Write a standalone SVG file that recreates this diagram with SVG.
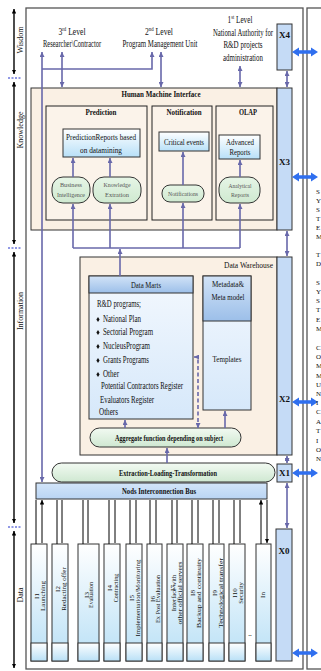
<svg xmlns="http://www.w3.org/2000/svg" width="321" height="671" viewBox="0 0 321 671">
<defs>
<style>
text{font-family:"Liberation Serif","Times New Roman",serif;fill:#111;}
.b{font-weight:bold}
.f10{font-size:10px}
.f95{font-size:9.5px}
.f9{font-size:9px}
.f8{font-size:8px}
.f7{font-size:7px}
.g{fill:#555}
.mid{text-anchor:middle}
.box{stroke:#333;stroke-width:1}
.frame{fill:none;stroke:#555;stroke-width:1.3}
.panel{fill:#faf0e4;stroke:#333;stroke-width:1}
.sub{fill:#fbf3ea;stroke:#222;stroke-width:1}
.xb{fill:#c5dbf6;stroke:#333;stroke-width:1}
.ln{stroke:#6868aa;stroke-width:1.6;fill:none}
.dash{stroke:#6868aa;stroke-width:1.6;fill:none;stroke-dasharray:4 2.5}
.bk{stroke:#000;stroke-width:1;fill:none}
.ax{stroke:#000;stroke-width:1.4;fill:none}
.tick{stroke:#2233cc;stroke-width:1;stroke-dasharray:2 1.5}
.dbl{fill:#2f6fef}
.frag{font-family:"Liberation Sans",Arial,sans-serif;font-size:7px;fill:#333}
</style>
<linearGradient id="gRep" x1="0" y1="0" x2="0" y2="1"><stop offset="0" stop-color="#ffffff"/><stop offset="1" stop-color="#b8e0f8"/></linearGradient>
<linearGradient id="gOval" x1="0" y1="0" x2="0" y2="1"><stop offset="0" stop-color="#e6f5e6"/><stop offset="1" stop-color="#cfe9d0"/></linearGradient>
<linearGradient id="gPill" x1="0" y1="0" x2="0" y2="1"><stop offset="0" stop-color="#f2faf2"/><stop offset="1" stop-color="#cfe8d1"/></linearGradient>
<linearGradient id="gHdr" x1="0" y1="0" x2="0" y2="1"><stop offset="0" stop-color="#d2e3f7"/><stop offset="1" stop-color="#9cbfe9"/></linearGradient>
<linearGradient id="gBody" x1="0" y1="0" x2="0" y2="1"><stop offset="0" stop-color="#f3f8fe"/><stop offset="1" stop-color="#d6e8fa"/></linearGradient>
<linearGradient id="gI" x1="0" y1="0" x2="0" y2="1"><stop offset="0" stop-color="#ffffff"/><stop offset="1" stop-color="#b9e0f6"/></linearGradient>
<linearGradient id="gBus" x1="0" y1="0" x2="0" y2="1"><stop offset="0" stop-color="#d3e5f9"/><stop offset="1" stop-color="#b9d4f3"/></linearGradient>
<marker id="ap" viewBox="0 0 10 10" refX="10" refY="5" markerWidth="5" markerHeight="5" markerUnits="userSpaceOnUse" orient="auto-start-reverse"><path d="M0,0 L10,5 L0,10 z" fill="#6868aa"/></marker>
<marker id="ak" viewBox="0 0 10 10" refX="10" refY="5" markerWidth="4.5" markerHeight="4.5" markerUnits="userSpaceOnUse" orient="auto-start-reverse"><path d="M0,0 L10,5 L0,10 z" fill="#000"/></marker>
</defs>

<rect width="321" height="671" fill="#ffffff"/>

<g id="frames">
<rect x="26" y="8" width="277" height="661" class="frame" fill="#fff"/>
<rect x="307" y="8" width="40" height="661" class="frame"/>
</g>

<g id="axis">
<path d="M14,9 V74" class="ax" marker-start="url(#ak)" marker-end="url(#ak)"/>
<path d="M14,82 V244" class="ax" marker-start="url(#ak)" marker-end="url(#ak)"/>
<path d="M14,252 V523" class="ax" marker-start="url(#ak)" marker-end="url(#ak)"/>
<path d="M14,531 V668" class="ax" marker-start="url(#ak)" marker-end="url(#ak)"/>
<path d="M8,78 H21 M8,248 H21 M8,527 H21" class="tick"/>
<text transform="translate(23,40) rotate(-90)" class="f8 mid">Wisdom</text>
<text transform="translate(23,130) rotate(-90)" class="f8 mid">Knowledge</text>
<text transform="translate(23,311) rotate(-90)" class="f8 mid">Information</text>
<text transform="translate(23,595) rotate(-90)" class="f8 mid">Data</text>
</g>

<g id="level3">
<text transform="translate(72,35) scale(0.8,1)" class="f95 mid" textLength="34" lengthAdjust="spacingAndGlyphs">3<tspan font-size="6" dy="-4">rd</tspan><tspan dy="4"> Level</tspan></text>
<text transform="translate(72,47) scale(0.7,1)" class="f95 mid" textLength="83" lengthAdjust="spacingAndGlyphs">Researcher\Contractor</text>
</g>
<g id="level2">
<text transform="translate(159,35) scale(0.8,1)" class="f95 mid" textLength="35" lengthAdjust="spacingAndGlyphs">2<tspan font-size="6" dy="-4">nd</tspan><tspan dy="4"> Level</tspan></text>
<text transform="translate(160,47) scale(0.7,1)" class="f95 mid" textLength="107" lengthAdjust="spacingAndGlyphs">Program Management Unit</text>
</g>
<g id="level1">
<text transform="translate(240,23) scale(0.8,1)" class="f95 mid" textLength="31" lengthAdjust="spacingAndGlyphs">1<tspan font-size="6" dy="-4">st</tspan><tspan dy="4"> Level</tspan></text>
<text transform="translate(243,36) scale(0.7,1)" class="f95 mid" textLength="86" lengthAdjust="spacingAndGlyphs">National Authority for</text>
<text transform="translate(243,48) scale(0.7,1)" class="f95 mid" textLength="56" lengthAdjust="spacingAndGlyphs">R&amp;D projects</text>
<text transform="translate(243,61) scale(0.7,1)" class="f95 mid" textLength="57" lengthAdjust="spacingAndGlyphs">administration</text>
</g>

<g id="hmi">
<rect x="31" y="88" width="246" height="142" class="panel"/>
<text x="161" y="97" class="f9 mid b" textLength="79" lengthAdjust="spacingAndGlyphs">Human Machine Interface</text>
</g>
<g id="prediction">
<rect x="46" y="106" width="101" height="114" class="sub"/>
<text x="101" y="115" class="f9 mid b" textLength="31" lengthAdjust="spacingAndGlyphs">Prediction</text>
</g>
<g id="notification">
<rect x="152" y="106" width="60" height="114" class="sub"/>
<text x="184" y="115" class="f9 mid b" textLength="35" lengthAdjust="spacingAndGlyphs">Notification</text>
</g>
<g id="olap">
<rect x="216" y="106" width="57" height="114" class="sub"/>
<text x="248" y="115" class="f9 mid b" textLength="18" lengthAdjust="spacingAndGlyphs">OLAP</text>
</g>
<g id="predReports">
<rect x="63" y="129" width="77" height="28" fill="url(#gRep)" class="box"/>
<text x="101" y="140" class="f9 mid" textLength="70" lengthAdjust="spacingAndGlyphs">PredictionReports based</text>
<text x="101" y="153" class="f9 mid" textLength="42" lengthAdjust="spacingAndGlyphs">on datamining</text>
</g>
<g id="businessIntel">
<rect x="52" y="177" width="38" height="26" rx="11" fill="url(#gOval)" class="box"/>
<text x="71" y="187" class="f7 mid g" textLength="22" lengthAdjust="spacingAndGlyphs">Business</text>
<text x="71" y="197" class="f7 mid g" textLength="28" lengthAdjust="spacingAndGlyphs">Intelligence</text>
</g>
<g id="knowledgeExt">
<rect x="93" y="177" width="48" height="26" rx="11" fill="url(#gOval)" class="box"/>
<text x="117" y="187" class="f7 mid g" textLength="27" lengthAdjust="spacingAndGlyphs">Knowledge</text>
<text x="117" y="197" class="f7 mid g" textLength="24" lengthAdjust="spacingAndGlyphs">Extration</text>
</g>
<g id="criticalEvents">
<rect x="159" y="132" width="50" height="19" fill="url(#gRep)" class="box"/>
<text x="184" y="145" class="f9 mid" textLength="40" lengthAdjust="spacingAndGlyphs">Critical events</text>
</g>
<g id="notifications">
<rect x="162" y="185" width="42" height="17" rx="8" fill="url(#gOval)" class="box"/>
<text x="183" y="196" class="f7 mid g" textLength="30" lengthAdjust="spacingAndGlyphs">Notifications</text>
</g>
<g id="advReports">
<rect x="219" y="135" width="41" height="24" fill="url(#gRep)" class="box"/>
<text x="240" y="145" class="f8 mid" textLength="28" lengthAdjust="spacingAndGlyphs">Advanced</text>
<text x="240" y="155" class="f8 mid" textLength="21" lengthAdjust="spacingAndGlyphs">Reports</text>
</g>
<g id="analytical">
<rect x="219" y="177" width="41" height="26" rx="11" fill="url(#gOval)" class="box"/>
<text x="240" y="188" class="f7 mid g" textLength="23" lengthAdjust="spacingAndGlyphs">Analytical</text>
<text x="240" y="197" class="f7 mid g" textLength="18" lengthAdjust="spacingAndGlyphs">Reports</text>
</g>

<g id="dataWarehouse">
<rect x="80" y="257" width="197" height="198" class="panel"/>
<text x="273" y="268" class="f9" text-anchor="end" textLength="49" lengthAdjust="spacingAndGlyphs">Data Warehouse</text>
</g>
<g id="dataMarts">
<rect x="89" y="276" width="104" height="143" fill="url(#gBody)" class="box"/>
<rect x="89" y="276" width="104" height="17" fill="url(#gHdr)" class="box"/>
<text x="146" y="288" class="f9 mid" textLength="30" lengthAdjust="spacingAndGlyphs">Data Marts</text>
<text x="97" y="307" class="f10" textLength="44" lengthAdjust="spacingAndGlyphs">R&amp;D programs;</text>
<g fill="#111">
<polygon points="98,317 99.6,319.5 98,322 96.4,319.5"/>
<polygon points="98,330 99.6,332.5 98,335 96.4,332.5"/>
<polygon points="98,344 99.6,346.5 98,349 96.4,346.5"/>
<polygon points="98,358 99.6,360.5 98,363 96.4,360.5"/>
<polygon points="98,372 99.6,374.5 98,377 96.4,374.5"/>
</g>
<text x="103" y="322" class="f10" textLength="38" lengthAdjust="spacingAndGlyphs">National Plan</text>
<text x="103" y="335" class="f10" textLength="50" lengthAdjust="spacingAndGlyphs">Sectorial Program</text>
<text x="103" y="349" class="f10" textLength="47" lengthAdjust="spacingAndGlyphs">NucleusProgram</text>
<text x="103" y="363" class="f10" textLength="46" lengthAdjust="spacingAndGlyphs">Grants Programs</text>
<text x="103" y="377" class="f10" textLength="16" lengthAdjust="spacingAndGlyphs">Other</text>
<text x="101" y="389" class="f10" textLength="82" lengthAdjust="spacingAndGlyphs">Potential Contractors Register</text>
<text x="100" y="403" class="f10" textLength="54" lengthAdjust="spacingAndGlyphs">Evaluators Register</text>
<text x="99" y="415" class="f10" textLength="19" lengthAdjust="spacingAndGlyphs">Others</text>
</g>
<g id="metadata">
<rect x="203" y="276" width="48" height="134" fill="url(#gBody)" class="box"/>
<rect x="203" y="276" width="48" height="45" fill="url(#gHdr)" class="box"/>
<text x="228" y="287" class="f9 mid" textLength="32" lengthAdjust="spacingAndGlyphs">Metadata&amp;</text>
<text x="228" y="300" class="f9 mid" textLength="33" lengthAdjust="spacingAndGlyphs">Meta model</text>
<text x="227" y="362" class="f9 mid" textLength="29" lengthAdjust="spacingAndGlyphs">Templates</text>
</g>
<g id="aggregate">
<rect x="90" y="428" width="151" height="19" rx="9.5" fill="url(#gPill)" class="box"/>
<text x="169" y="441" class="f8 mid b" textLength="108" lengthAdjust="spacingAndGlyphs">Aggregate function depending on subject</text>
</g>
<g id="etl">
<rect x="52" y="463" width="223" height="19" rx="9.5" fill="url(#gPill)" class="box"/>
<text x="168" y="476" class="f9 mid b" textLength="98" lengthAdjust="spacingAndGlyphs">Extraction-Loading-Transformation</text>
</g>
<g id="bus">
<rect x="36" y="483" width="231" height="16" fill="url(#gBus)" class="box"/>
<text x="159" y="494" class="f9 mid b" textLength="74" lengthAdjust="spacingAndGlyphs">Nods Interconnection Bus</text>
</g>

<g id="x4"><rect x="277" y="24" width="15" height="46" class="xb"/><text x="284.5" y="38" class="f9 mid b">X4</text></g>
<g id="x3"><rect x="277" y="88" width="15" height="142" class="xb"/><text x="284.5" y="165" class="f9 mid b">X3</text></g>
<g id="x2"><rect x="277" y="257" width="15" height="198" class="xb"/><text x="284.5" y="402" class="f9 mid b">X2</text></g>
<g id="x1"><rect x="277" y="464" width="15" height="18" class="xb"/><text x="284.5" y="476" class="f9 mid b">X1</text></g>
<g id="x0"><rect x="276" y="529" width="16" height="132" class="xb"/><text x="284" y="554" class="f9 mid b">X0</text></g>

<g id="i1"><rect x="31" y="544" width="16" height="117" fill="url(#gI)" class="box"/><rect x="31" y="643" width="16" height="18" fill="url(#gI)" class="box"/>
<g transform="translate(39,596) rotate(-90)"><text y="0" class="f7 mid">I1</text><text y="6" class="f7 mid">Launching</text></g></g>
<g id="i2"><rect x="52" y="544" width="16" height="117" fill="url(#gI)" class="box"/><rect x="52" y="643" width="16" height="18" fill="url(#gI)" class="box"/>
<g transform="translate(60,589) rotate(-90)"><text y="0" class="f7 mid">I2</text><text y="6" class="f7 mid">Redacting offer</text></g></g>
<g id="i3"><rect x="78" y="544" width="21" height="117" fill="url(#gI)" class="box"/><rect x="78" y="643" width="21" height="18" fill="url(#gI)" class="box"/>
<g transform="translate(88.5,595) rotate(-90)"><text y="0" class="f7 mid">I3</text><text y="4.5" font-size="6" class="mid">Evaluation</text></g></g>
<g id="i4"><rect x="104" y="544" width="16" height="117" fill="url(#gI)" class="box"/><rect x="104" y="643" width="16" height="18" fill="url(#gI)" class="box"/>
<g transform="translate(112,588) rotate(-90)"><text y="0" class="f7 mid">I4</text><text y="5.5" font-size="6" class="mid">Contracting</text></g></g>
<g id="i5"><rect x="126" y="544" width="16" height="117" fill="url(#gI)" class="box"/><rect x="126" y="643" width="16" height="18" fill="url(#gI)" class="box"/>
<g transform="translate(134,598) rotate(-90)"><text y="0" class="f7 mid">I5</text><text y="5.5" font-size="6.5" class="mid" textLength="77" lengthAdjust="spacingAndGlyphs">Implementation/Monitoring</text></g></g>
<g id="i6"><rect x="147" y="544" width="15" height="117" fill="url(#gI)" class="box"/><rect x="147" y="643" width="15" height="18" fill="url(#gI)" class="box"/>
<g transform="translate(154.5,599) rotate(-90)"><text y="0" class="f7 mid">I6</text><text y="5.5" font-size="6.5" class="mid" textLength="48" lengthAdjust="spacingAndGlyphs">Ex Post Evaluation</text></g></g>
<g id="i7"><rect x="167" y="544" width="16" height="117" fill="url(#gI)" class="box"/><rect x="167" y="643" width="16" height="18" fill="url(#gI)" class="box"/>
<g transform="translate(175,593) rotate(-90)"><text x="5" y="0" class="f7 mid">I7</text><text y="0.5" font-size="6.5" class="mid">Interface with</text><text y="6.5" font-size="6.5" class="mid" textLength="63" lengthAdjust="spacingAndGlyphs">other official servers</text></g></g>
<g id="i8"><rect x="187" y="544" width="16" height="117" fill="url(#gI)" class="box"/><rect x="187" y="643" width="16" height="18" fill="url(#gI)" class="box"/>
<g transform="translate(195,593) rotate(-90)"><text y="0" class="f7 mid">I8</text><text y="6" font-size="6.5" class="mid" textLength="70" lengthAdjust="spacingAndGlyphs">Backup and continuity</text></g></g>
<g id="i9"><rect x="209" y="544" width="15" height="117" fill="url(#gI)" class="box"/><rect x="209" y="643" width="15" height="18" fill="url(#gI)" class="box"/>
<g transform="translate(216.5,593) rotate(-90)"><text y="0" class="f7 mid">I9</text><text y="6" font-size="6.5" class="mid" textLength="70" lengthAdjust="spacingAndGlyphs">Technological transfer</text></g></g>
<g id="i10"><rect x="229" y="544" width="16" height="117" fill="url(#gI)" class="box"/><rect x="229" y="643" width="16" height="18" fill="url(#gI)" class="box"/>
<g transform="translate(237,593) rotate(-90)"><text y="0" class="f7 mid">I10</text><text y="6" font-size="6.5" class="mid">Security</text></g></g>
<g id="in"><rect x="256" y="544" width="15" height="117" fill="url(#gI)" class="box"/><rect x="256" y="643" width="15" height="18" fill="url(#gI)" class="box"/>
<g transform="translate(263.5,595) rotate(-90)"><text y="1.5" class="f7 mid">In</text></g></g>
<g id="ellipsis"><text x="250" y="636" class="f7 mid b">..</text></g>

<g id="connectors">
<path d="M42,52 V482" class="ln" marker-start="url(#ap)" marker-end="url(#ap)"/>
<path d="M62,52 V87" class="ln" marker-start="url(#ap)" marker-end="url(#ap)"/>
<path d="M42,69 H152 V52" class="ln" marker-end="url(#ap)"/>
<path d="M161,52 V87" class="ln" marker-start="url(#ap)" marker-end="url(#ap)"/>
<path d="M240,66 V87" class="ln" marker-start="url(#ap)" marker-end="url(#ap)"/>
<path d="M287,71 V87" class="ln" marker-start="url(#ap)" marker-end="url(#ap)"/>
<path d="M73,177 V158" class="ln" marker-end="url(#ap)"/>
<path d="M110,177 V158" class="ln" marker-end="url(#ap)"/>
<path d="M183,185 V152" class="ln" marker-end="url(#ap)"/>
<path d="M240,177 V160" class="ln" marker-end="url(#ap)"/>
<path d="M73,248 H240" class="ln"/>
<path d="M73,248 V204" class="ln" marker-end="url(#ap)"/>
<path d="M110,248 V204" class="ln" marker-end="url(#ap)"/>
<path d="M183,248 V203" class="ln" marker-end="url(#ap)"/>
<path d="M240,248 V204" class="ln" marker-end="url(#ap)"/>
<path d="M120,276 V249" class="ln" marker-end="url(#ap)"/>
<path d="M287,231 V256" class="ln" marker-start="url(#ap)" marker-end="url(#ap)"/>
<path d="M125,428 V420" class="ln" marker-end="url(#ap)"/>
<path d="M225,428 V411" class="ln" marker-end="url(#ap)"/>
<path d="M194,357 H198 V428" class="dash" marker-start="url(#ap)" marker-end="url(#ap)"/>
<path d="M167,463 V448" class="ln" marker-end="url(#ap)"/>
<path d="M287,456 V463" class="ln" marker-start="url(#ap)" marker-end="url(#ap)"/>
<path d="M287,483 V528" class="ln" marker-start="url(#ap)" marker-end="url(#ap)"/>
<g id="busLinks">
<path d="M36,544 V500 M57,544 V500 M83,544 V500 M109,544 V500 M130,544 V500 M150,544 V500 M172,544 V500 M192,544 V500 M213,544 V500 M234,544 V500 M261,544 V500" class="bk" marker-end="url(#ak)"/>
<path d="M42,500 V543 M62,500 V543 M88,500 V543 M115,500 V543 M136,500 V543 M156,500 V543 M177,500 V543 M198,500 V543 M219,500 V543 M240,500 V543 M267,500 V543" class="bk" marker-start="url(#ak)" marker-end="url(#ak)"/>
</g>
<g id="externalLinks" class="dbl">
<polygon points="292,52 299,47.5 299,50.3 311,50.3 311,47.5 318,52 311,56.5 311,53.7 299,53.7 299,56.5"/>
<polygon points="292,177 299,172.5 299,175.3 311,175.3 311,172.5 318,177 311,181.5 311,178.7 299,178.7 299,181.5"/>
<polygon points="292,402 299,397.5 299,400.3 311,400.3 311,397.5 318,402 311,406.5 311,403.7 299,403.7 299,406.5"/>
<polygon points="292,473 299,468.5 299,471.3 311,471.3 311,468.5 318,473 311,477.5 311,474.7 299,474.7 299,477.5"/>
<polygon points="292,653 299,648.5 299,651.3 311,651.3 311,648.5 318,653 311,657.5 311,654.7 299,654.7 299,657.5"/>
</g>
</g>

<g id="neighbour" class="frag">
<text x="316" y="194">S</text><text x="316" y="203">Y</text><text x="316" y="212">S</text><text x="316" y="221">T</text><text x="316" y="230">E</text><text x="316" y="239">M</text>
<text x="316" y="257">T</text><text x="316" y="266">D</text>
<text x="316" y="285">S</text><text x="316" y="294">Y</text><text x="316" y="303">S</text><text x="316" y="312">T</text><text x="316" y="322">E</text><text x="316" y="331">M</text>
<text x="316" y="350">C</text><text x="316" y="359">O</text><text x="316" y="368">M</text><text x="316" y="378">M</text><text x="316" y="387">U</text><text x="316" y="396">N</text><text x="316" y="405">I</text><text x="316" y="414">C</text><text x="316" y="424">A</text><text x="316" y="433">T</text><text x="316" y="443">I</text><text x="316" y="452">O</text><text x="316" y="461">N</text>
</g>
</svg>
